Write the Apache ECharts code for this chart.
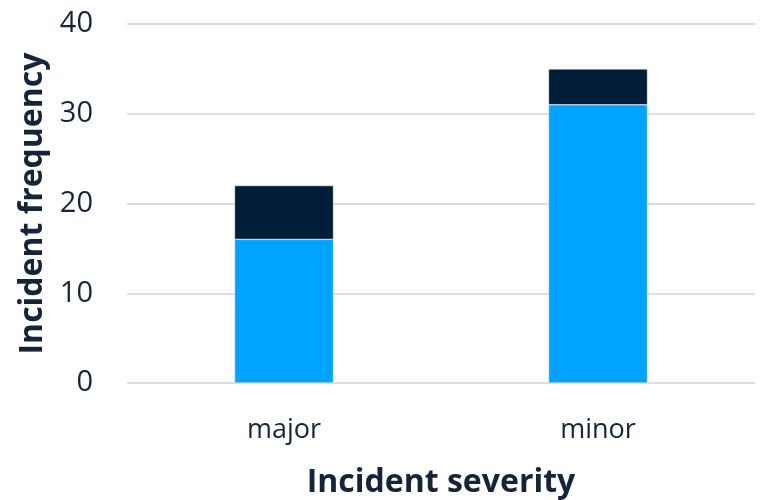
<!DOCTYPE html>
<html>
<head>
<meta charset="utf-8">
<script src="https://cdn.jsdelivr.net/npm/echarts@6/dist/echarts.min.js"></script>
<style>
  html, body { margin: 0; padding: 0; background: #ffffff; }
  #chart { width: 760px; height: 500px; }
</style>
</head>
<body>
<div id="chart"></div>
<script>
// Incident counts by severity, stacked in two segments
const categories = ['major', 'minor'];
const lowerSegment = [16, 31];
const upperSegment = [6, 4];
const yTicks = { min: 0, max: 40, interval: 10 };

const textColor = '#14253b';
const fontFamily = '"Open Sans", "Noto Sans", sans-serif';

const chart = echarts.init(document.getElementById('chart'), null, { renderer: 'canvas' });

chart.setOption({
  animation: false,
  grid: { left: 127, right: 5, top: 24, bottom: 117, containLabel: false, outerBoundsMode: 'none' },
  xAxis: {
    type: 'category',
    data: categories,
    name: 'Incident severity',
    nameLocation: 'middle',
    nameGap: 84,
    nameTextStyle: { color: textColor, fontSize: 32, fontWeight: 'bold', fontFamily: fontFamily },
    axisLine: { show: false },
    axisTick: { show: false },
    axisLabel: { color: textColor, fontSize: 27, fontFamily: fontFamily, margin: 34 }
  },
  yAxis: {
    type: 'value',
    min: yTicks.min,
    max: yTicks.max,
    interval: yTicks.interval,
    name: 'Incident frequency',
    nameLocation: 'middle',
    nameGap: 78,
    nameTextStyle: { color: textColor, fontSize: 32, fontWeight: 'bold', fontFamily: fontFamily },
    axisLine: { show: false },
    axisTick: { show: false },
    axisLabel: { color: textColor, fontSize: 29, fontFamily: fontFamily, margin: 34 },
    splitLine: { lineStyle: { color: '#dcdbe6', width: 2 } }
  },
  series: [
    {
      type: 'bar',
      name: 'lower',
      stack: 'total',
      data: lowerSegment,
      barWidth: 99,
      itemStyle: { color: '#00a3ff', borderColor: '#ffffff', borderWidth: 0.5 }
    },
    {
      type: 'bar',
      name: 'upper',
      stack: 'total',
      data: upperSegment,
      barWidth: 99,
      itemStyle: { color: '#011d37', borderColor: '#ffffff', borderWidth: 0.5 }
    }
  ]
});
</script>
</body>
</html>
